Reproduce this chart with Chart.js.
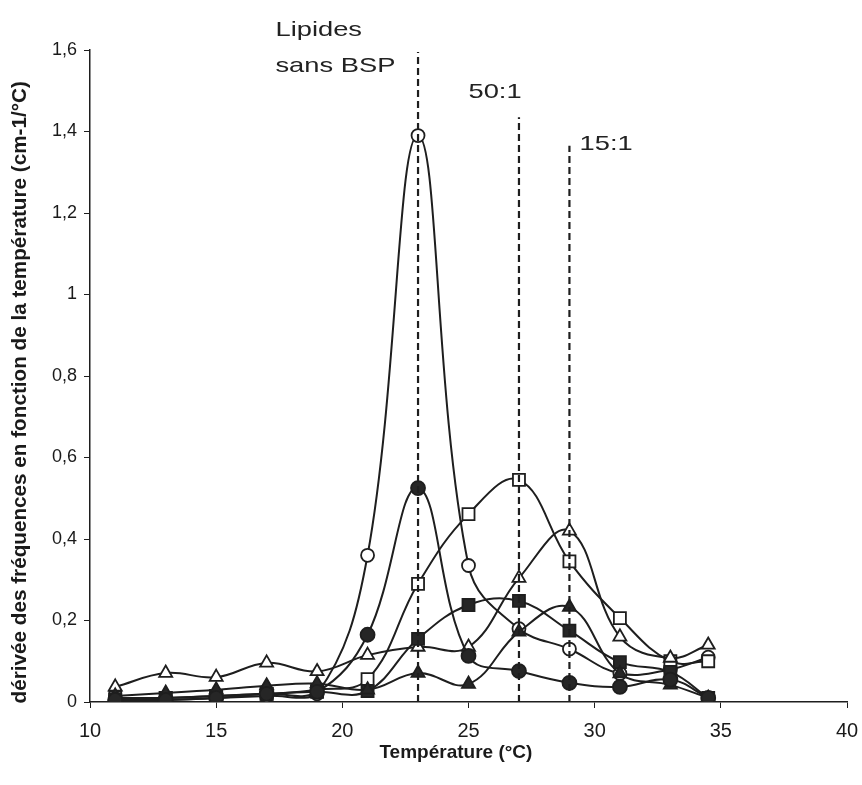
<!DOCTYPE html>
<html>
<head>
<meta charset="utf-8">
<script src="https://cdn.jsdelivr.net/npm/chart.js@4"></script>
<style>
  html, body { margin: 0; padding: 0; background: #fff; }
  #wrap { width: 862px; height: 785px; }
</style>
</head>
<body>
<div id="wrap"><canvas id="chart" width="862" height="785"></canvas></div>
<script>
// Temperatures (°C)
const temps = [11, 13, 15, 17, 19, 21, 23, 25, 27, 29, 31, 33, 34.5];

// derivative values, one array per curve
const openCircles    = [0.010, 0.005, 0.010, 0.015, 0.020, 0.360, 1.390, 0.335, 0.180, 0.130, 0.070, 0.080, 0.110];
const filledCircles  = [0.005, 0.005, 0.010, 0.020, 0.025, 0.165, 0.525, 0.113, 0.076, 0.047, 0.037, 0.055, 0.010];
const openSquares    = [0.010, 0.010, 0.015, 0.020, 0.030, 0.056, 0.290, 0.461, 0.545, 0.345, 0.206, 0.100, 0.100];
const filledSquares  = [0.005, 0.010, 0.015, 0.020, 0.025, 0.027, 0.155, 0.238, 0.248, 0.175, 0.098, 0.074, 0.010];
const openTriangles  = [0.037, 0.071, 0.061, 0.096, 0.075, 0.115, 0.135, 0.135, 0.304, 0.420, 0.160, 0.108, 0.140];
const filledTriangles = [0.015, 0.022, 0.030, 0.040, 0.045, 0.030, 0.071, 0.044, 0.172, 0.233, 0.070, 0.042, 0.010];

// dashed markers of the transition temperatures
const markerTemps = [23, 27, 29];
const markerTops = [1.595, 1.435, 1.365];
const markerLabels = [['Lipides', 'sans BSP'], ['50:1'], ['15:1']];

const xTickLabels = ['10', '15', '20', '25', '30', '35', '40'];
const yTickLabels = ['0', '0,2', '0,4', '0,6', '0,8', '1', '1,2', '1,4', '1,6'];
const xTitle = 'Température (°C)';
const yTitle = 'dérivée des fréquences en fonction de la température (cm-1/°C)';

const ink = '#1e1e1e';

function pts(ys) {
    return temps.map((t, i) => ({ x: t, y: ys[i] }));
}

function curve(ys, style, filled, radius) {
    return {
        data: pts(ys),
        showLine: true,
        tension: 0.4,
        borderColor: ink,
        borderWidth: 2,
        pointStyle: style,
        pointRadius: radius,
        pointBorderColor: ink,
        pointBorderWidth: 1.8,
        pointBackgroundColor: filled ? '#262626' : '#ffffff'
    };
}

const datasets = [];
markerTemps.forEach((t, i) => {
    datasets.push({
        data: [{ x: t, y: 0 }, { x: t, y: markerTops[i] }],
        showLine: true,
        borderColor: ink,
        borderWidth: 2.2,
        borderDash: [7, 4],
        pointRadius: 0
    });
});
datasets.push(curve(filledCircles, 'circle', true, 7));
datasets.push(curve(filledTriangles, 'triangle', true, 7.5));
datasets.push(curve(filledSquares, 'rect', true, 8.5));
datasets.push(curve(openTriangles, 'triangle', false, 7.5));
datasets.push(curve(openSquares, 'rect', false, 8.5));
datasets.push(curve(openCircles, 'circle', false, 6.5));

// axis titles and the text next to the dashed lines
const labelPlugin = {
    id: 'markerLabels',
    afterDraw(chart) {
        const ctx = chart.ctx;
        const xs = chart.scales.x, ys = chart.scales.y;
        const spots = [
            { x: 17.35, y: 1.634 },
            { x: 25.0, y: 1.482 },
            { x: 29.4, y: 1.355 }
        ];
        ctx.save();
        ctx.fillStyle = '#222';
        ctx.font = '21px "Liberation Sans", Arial, sans-serif';
        ctx.textBaseline = 'alphabetic';
        markerLabels.forEach((lines, i) => {
            const px = xs.getPixelForValue(spots[i].x);
            let py = ys.getPixelForValue(spots[i].y);
            lines.forEach(line => {
                ctx.save();
                ctx.translate(px, py);
                ctx.scale(1.3, 1);
                ctx.fillText(line, 0, 0);
                ctx.restore();
                py += 36;
            });
        });

        ctx.fillStyle = '#1a1a1a';
        ctx.textAlign = 'center';
        ctx.textBaseline = 'middle';
        ctx.font = 'bold 19px "Liberation Sans", Arial, sans-serif';
        ctx.fillText(xTitle, xs.getPixelForValue(24.5), 753);

        ctx.save();
        ctx.translate(20, ys.getPixelForValue(0.76));
        ctx.rotate(-Math.PI / 2);
        ctx.font = 'bold 20.7px "Liberation Sans", Arial, sans-serif';
        ctx.fillText(yTitle, 0, 0);
        ctx.restore();
        ctx.restore();
    }
};

new Chart(document.getElementById('chart'), {
    type: 'scatter',
    data: { datasets: datasets },
    options: {
        responsive: false,
        animation: false,
        layout: { padding: { top: 50, right: 15, bottom: 0, left: 0 } },
        plugins: {
            legend: { display: false },
            tooltip: { enabled: false }
        },
        scales: {
            x: {
                type: 'linear',
                min: 10,
                max: 40,
                afterFit: s => { s.height = 83; s.paddingLeft = 0; s.paddingRight = 0; },
                ticks: {
                    stepSize: 5,
                    color: '#1a1a1a',
                    padding: 11,
                    font: { family: '"Liberation Sans", Arial', size: 20 },
                    callback: (v, i) => xTickLabels[i]
                },
                grid: { drawOnChartArea: false, drawTicks: true, tickLength: 6, color: ink },
                border: { display: true, color: ink, width: 1.5 }
            },
            y: {
                type: 'linear',
                min: 0,
                max: 1.6,
                afterFit: s => { s.width = 90; s.paddingTop = 0; s.paddingBottom = 0; },
                ticks: {
                    stepSize: 0.2,
                    color: '#1a1a1a',
                    padding: 7,
                    font: { family: '"Liberation Sans", Arial', size: 18 },
                    callback: (v, i) => yTickLabels[i]
                },
                grid: { drawOnChartArea: false, drawTicks: true, tickLength: 6, color: ink },
                border: { display: true, color: ink, width: 1.5 }
            }
        }
    },
    plugins: [labelPlugin]
});
</script>
</body>
</html>
